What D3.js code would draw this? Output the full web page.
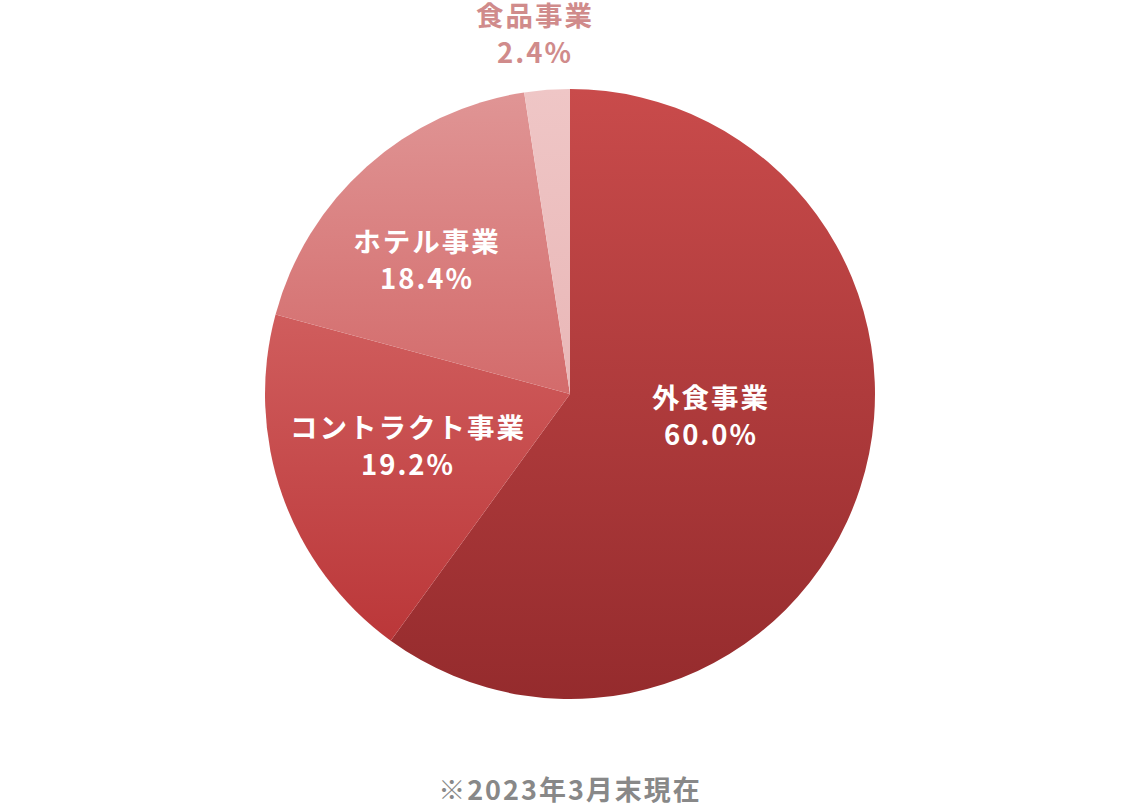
<!DOCTYPE html>
<html>
<head>
<meta charset="utf-8">
<script src="https://cdn.jsdelivr.net/npm/d3@7"></script>
<style>
  html, body { margin: 0; padding: 0; background: #fff; }
  svg { display: block; font-family: "Noto Sans CJK JP", "Noto Sans", sans-serif; }
</style>
</head>
<body>
<svg id="pie"></svg>
<script>
const categories = ['外食事業', 'コントラクト事業', 'ホテル事業', '食品事業'];
const shares = [60.0, 19.2, 18.4, 2.4];
const note = '※2023年3月末現在';

// gradient top / bottom per slice
const topColors = ['#c94b4b', '#d05d5d', '#e09595', '#efc6c6'];
const bottomColors = ['#952b2d', '#bb3739', '#d36b6b', '#e9b7b7'];

const width = 1140;
const height = 806;
const cx = 570, cy = 394;
const radius = 305;

// label placement relative to pie center
const labelPlace = [
  { dx: 141, dy: 22, fill: '#fff' },
  { dx: -162, dy: 52, fill: '#fff' },
  { dx: -143, dy: -134, fill: '#fff' },
  { dx: -35, dy: -360, fill: '#d08b8b' }
];

const data = categories.map((c, i) => ({ name: c, value: shares[i], i }));

const svg = d3.select('#pie').attr('width', width).attr('height', height);

const defs = svg.append('defs');
data.forEach(d => {
  const g = defs.append('linearGradient')
    .attr('id', 'grad' + d.i)
    .attr('x1', 0).attr('y1', 0).attr('x2', 0).attr('y2', 1);
  g.append('stop').attr('offset', '0%').attr('stop-color', topColors[d.i]);
  g.append('stop').attr('offset', '100%').attr('stop-color', bottomColors[d.i]);
});

const pie = d3.pie().value(d => d.value).sort(null);
const arc = d3.arc().innerRadius(0).outerRadius(radius);

const g = svg.append('g').attr('transform', `translate(${cx},${cy})`);

g.selectAll('path')
  .data(pie(data))
  .join('path')
  .attr('d', arc)
  .attr('fill', d => `url(#grad${d.data.i})`);

const labels = g.selectAll('text.lbl')
  .data(data)
  .join('text')
  .attr('class', 'lbl')
  .attr('text-anchor', 'middle')
  .attr('font-weight', 700)
  .attr('font-size', 27.5)
  .attr('letter-spacing', 2)
  .attr('fill', d => labelPlace[d.i].fill)
  .attr('transform', d => `translate(${labelPlace[d.i].dx},${labelPlace[d.i].dy})`);

labels.append('tspan').attr('x', 0).attr('y', -8).text(d => d.name);
labels.append('tspan').attr('x', 0).attr('y', 29).text(d => d.value.toFixed(1) + '%');

svg.append('text')
  .attr('x', cx)
  .attr('y', 800)
  .attr('text-anchor', 'middle')
  .attr('font-weight', 700)
  .attr('font-size', 27)
  .attr('letter-spacing', 2)
  .attr('fill', '#888')
  .text(note);
</script>
</body>
</html>
